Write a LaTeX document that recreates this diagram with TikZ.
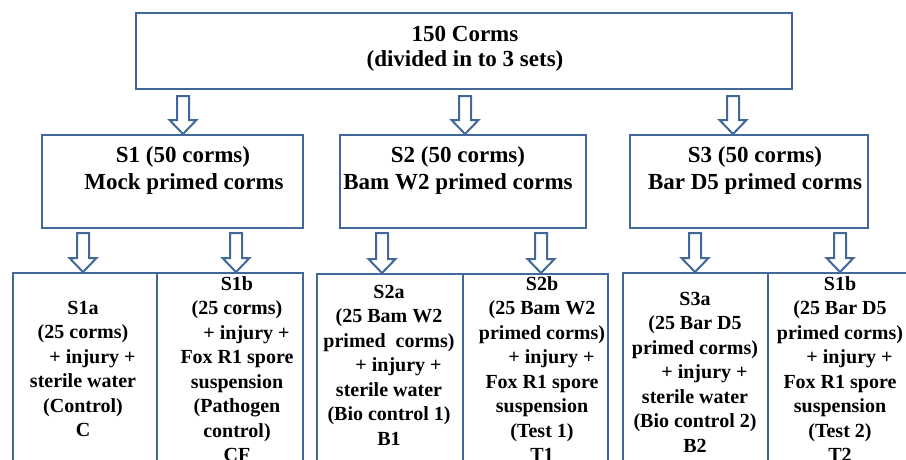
\documentclass[tikz,border=0pt]{standalone}
\usepackage{fontspec}
\setmainfont{Liberation Serif}
\usetikzlibrary{calc}
\definecolor{bordc}{RGB}{65,104,153}
\tikzset{
  box/.style={draw=bordc, line width=2.4pt, fill=white, inner sep=0pt, anchor=north west},
  arr/.style={draw=bordc, line width=2pt, fill=white, line join=miter},
  bigtxt/.style={font=\bfseries\fontsize{23}{25}\selectfont, align=center, anchor=north, inner sep=0pt},
  midtxt/.style={font=\bfseries\fontsize{23}{27}\selectfont, align=center, anchor=north, inner sep=0pt},
  smltxt/.style={font=\bfseries\fontsize{20}{24.5}\selectfont, align=center, anchor=north, inner sep=0pt},
}
\newcommand\blockarr[2]{%
  \draw[arr] let \p1=(#1), \p2=(#2) in
    ({\x1-6pt},\y1) -- ({\x1+6pt},\y1) -- ({\x1+6pt},{\y2+14pt}) --
    ({\x1+13.5pt},{\y2+14pt}) -- (\x1,\y2) -- ({\x1-13.5pt},{\y2+14pt}) --
    ({\x1-6pt},{\y2+14pt}) -- cycle;}
\begin{document}
\begin{tikzpicture}[x=1pt,y=-1pt]
\useasboundingbox (0,0) rectangle (906,459);
\fill[white] (0,0) rectangle (906,459);
\clip (0,0) rectangle (906,459);
% top box
\node[box, minimum width=656pt, minimum height=76pt] (top) at (135,12) {};
\node[bigtxt] (ttop) at (465,26) {150 Corms\\(divided in to 3 sets)};
% second row
\node[box, minimum width=261pt, minimum height=93pt] (s1) at (41,134) {};
\node[box, minimum width=246pt, minimum height=93pt] (s2) at (339,134) {};
\node[box, minimum width=238pt, minimum height=93pt] (s3) at (629,134) {};
\node[midtxt] (ts1) at (183,146) {S1 (50 corms)\\\hspace*{2pt}Mock primed corms};
\node[midtxt] (ts2) at (458,146) {S2 (50 corms)\\Bam W2 primed corms};
\node[midtxt] (ts3) at (755,146) {S3 (50 corms)\\Bar D5 primed corms};
% third row
\node[box, minimum width=144pt, minimum height=220pt] (s1a) at (12,272) {};
\node[box, minimum width=146pt, minimum height=220pt] (s1b) at (156,272) {};
\node[box, minimum width=146pt, minimum height=220pt] (s2a) at (316,273) {};
\node[box, minimum width=145pt, minimum height=220pt] (s2b) at (462,273) {};
\node[box, minimum width=145pt, minimum height=220pt] (s3a) at (622,272) {};
\node[box, minimum width=150pt, minimum height=220pt] (s3b) at (767,272) {};
\node[smltxt] (ts1a) at (83,301) {S1a\\(25 corms)\\\hspace*{19pt}+ injury +\\sterile water\\(Control)\\C};
\node[smltxt] (ts1b) at (237,276) {S1b\\(25 corms)\\\hspace*{19pt}+ injury +\\Fox R1 spore\\suspension\\(Pathogen\\control)\\CF};
\node[smltxt] (ts2a) at (389,285) {S2a\\(25 Bam W2\\primed\ \ corms)\\\hspace*{19pt}+ injury +\\sterile water\\(Bio control 1)\\B1};
\node[smltxt] (ts2b) at (542,276) {S2b\\(25 Bam W2\\primed corms)\\\hspace*{19pt}+ injury +\\Fox R1 spore\\suspension\\(Test 1)\\T1};
\node[smltxt] (ts3a) at (695,292) {S3a\\(25 Bar D5\\primed corms)\\\hspace*{19pt}+ injury +\\sterile water\\(Bio control 2)\\B2};
\node[smltxt] (ts3b) at (840,276) {S1b\\(25 Bar D5\\primed corms)\\\hspace*{19pt}+ injury +\\Fox R1 spore\\suspension\\(Test 2)\\T2};
% arrow coordinates
\coordinate (a1) at ($(top.south west)!0.075!(top.south east)+(0,8)$);
\coordinate (a1) at (183,96);
\coordinate (a2) at (465,96);
\coordinate (a3) at (733,96);
\blockarr{a1}{a1 |- s1.north}
\blockarr{a2}{a2 |- s2.north}
\blockarr{a3}{a3 |- s3.north}
\coordinate (b1) at (83,233);
\coordinate (b2) at (236,233);
\coordinate (b3) at (382,233);
\coordinate (b4) at (541,233);
\coordinate (b5) at (695,233);
\coordinate (b6) at (840,233);
\blockarr{b1}{b1 |- s1a.north}
\blockarr{b2}{b2 |- s1b.north}
\blockarr{b3}{b3 |- s2a.north}
\blockarr{b4}{b4 |- s2b.north}
\blockarr{b5}{b5 |- s3a.north}
\blockarr{b6}{b6 |- s3b.north}
\end{tikzpicture}
\end{document}
